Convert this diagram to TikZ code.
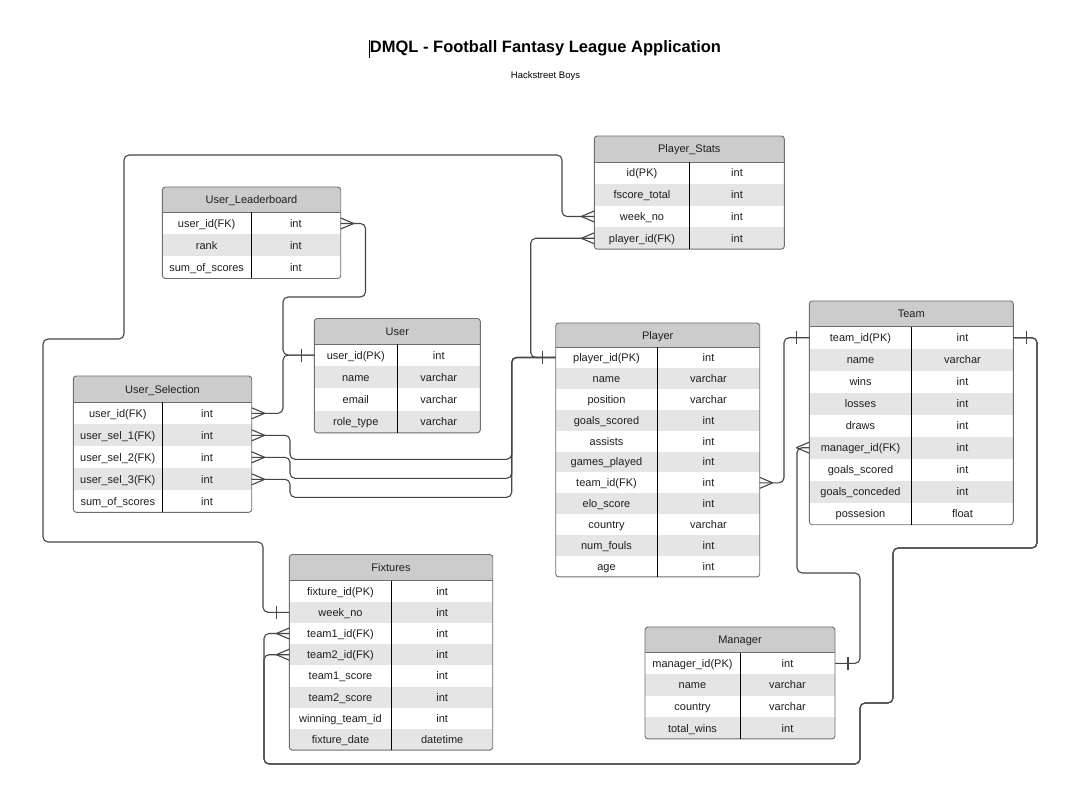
\documentclass[tikz,border=0pt]{standalone}
\usepackage{fontspec}
\setmainfont{Liberation Sans}
\definecolor{hdrfill}{RGB}{204,204,204}
\definecolor{altfill}{RGB}{229,229,229}
\definecolor{bordercol}{RGB}{110,110,110}
\definecolor{linecol}{RGB}{70,70,70}
\definecolor{txtcol}{RGB}{30,30,30}
\newcommand{\ercellfont}{\fontsize{11}{13}\selectfont}
\tikzset{
  hdrbox/.style={fill=hdrfill, inner sep=0pt, outer sep=0pt, text=txtcol, font=\ercellfont, text height=8pt, text depth=0pt},
  rowbox/.style={inner sep=0pt, outer sep=0pt, draw=none},
  celltext/.style={inner sep=0pt, text=txtcol, font=\ercellfont, text height=8pt, text depth=0pt},
  tblframe/.style={draw=bordercol, line width=0.9pt, rounded corners=3pt},
  divider/.style={draw=black, line width=0.8pt},
  rel/.style={draw=linecol, line width=1.1pt, rounded corners=5pt},
  endmark/.style={draw=linecol, line width=1.1pt}
}
\newcommand{\erTable}[9]{%
  \pgfmathsetmacro\tW{#4-#2}%
  \pgfmathsetmacro\cxa{(#2+#3)/2}%
  \pgfmathsetmacro\cxb{(#3+#4)/2}%
  \foreach \a/\b [count=\n] in {#9}{\xdef\nrows{\n}}%
  \pgfmathsetmacro\hb{#5+#6}%
  \pgfmathsetmacro\tb{#5+#6+\nrows*#7}%
  \begin{scope}
    \clip[rounded corners=3pt] (#2,#5) rectangle (#4,\tb);
    \node[hdrbox, minimum width=\tW pt, minimum height=#6 pt, anchor=north west] (#1) at (#2,#5) {#8};
    \foreach \a/\b [count=\i] in {#9}{%
      \pgfmathsetmacro\yy{#5+#6+(\i-1)*#7}%
      \pgfmathsetmacro\cy{#5+#6+(\i-0.5)*#7}%
      \ifodd\i\def\rowfill{white}\else\def\rowfill{altfill}\fi
      \node[rowbox, fill=\rowfill, minimum width=\tW pt, minimum height=#7 pt, anchor=north west] (#1-\i) at (#2,\yy) {};
      \node[celltext] (#1-\i-k) at (\cxa,\cy) {\a};
      \node[celltext] (#1-\i-t) at (\cxb,\cy) {\b};
    }
  \end{scope}
  \draw[tblframe] (#2,#5) rectangle (#4,\tb);
  \draw[draw=bordercol, line width=0.9pt] (#2,\hb) -- (#4,\hb);
  \draw[divider] (#3,\hb) -- (#3,\tb);
}
\newcommand{\crowR}[1]{\draw[endmark] ([xshift=13pt]#1) -- ([yshift=5.5pt]#1) ([xshift=13pt]#1) -- ([yshift=-5.5pt]#1);}
\newcommand{\crowL}[1]{\draw[endmark] ([xshift=-13pt]#1) -- ([yshift=5.5pt]#1) ([xshift=-13pt]#1) -- ([yshift=-5.5pt]#1);}
\newcommand{\barL}[1]{\draw[endmark] ([xshift=-13pt,yshift=6.5pt]#1) -- ([xshift=-13pt,yshift=-6.5pt]#1);}
\newcommand{\barR}[1]{\draw[endmark] ([xshift=13pt,yshift=6.5pt]#1) -- ([xshift=13pt,yshift=-6.5pt]#1);}
\begin{document}
\begin{tikzpicture}[x=1pt,y=-1pt]
\useasboundingbox (0,0) rectangle (1082,805);
\fill[white] (0,0) rectangle (1082,805);

\node[font=\bfseries\fontsize{16.5}{20}\selectfont, text=black] (title) at (545.5,48) {DMQL - Football Fantasy League Application};
\node[font=\fontsize{9.5}{11}\selectfont, text=black] (subtitle) at (545.5,76) {Hackstreet Boys};
\draw[line width=0.8pt] (369.5,40) -- (369.5,58);

% tables
\erTable{PS}{594.3}{689.7}{784.3}{136}{26}{21.8}{Player\_Stats}{id(PK)/int, fscore\_total/int, week\_no/int, player\_id(FK)/int}
\erTable{UL}{162.3}{251}{340.7}{187}{25.5}{22}{User\_Leaderboard}{user\_id(FK)/int, rank/int, sum\_of\_scores/int}
\erTable{U}{314.3}{397.3}{480.3}{318.5}{25.5}{22.2}{User}{user\_id(PK)/int, name/varchar, email/varchar, role\_type/varchar}
\erTable{US}{73.3}{162.3}{251.7}{376}{26.3}{22}{User\_Selection}{user\_id(FK)/int, user\_sel\_1(FK)/int, user\_sel\_2(FK)/int, user\_sel\_3(FK)/int, sum\_of\_scores/int}
\erTable{P}{555.7}{657.3}{759.7}{323}{24}{20.9}{Player}{player\_id(PK)/int, name/varchar, position/varchar, goals\_scored/int, assists/int, games\_played/int, team\_id(FK)/int, elo\_score/int, country/varchar, num\_fouls/int, age/int}
\erTable{T}{809.3}{911.7}{1013.3}{301}{25.7}{22}{Team}{team\_id(PK)/int, name/varchar, wins/int, losses/int, draws/int, manager\_id(FK)/int, goals\_scored/int, goals\_conceded/int, possesion/float}
\erTable{F}{289.3}{391.7}{492.7}{554.5}{26}{21.2}{Fixtures}{fixture\_id(PK)/int, week\_no/int, team1\_id(FK)/int, team2\_id(FK)/int, team1\_score/int, team2\_score/int, winning\_team\_id/int, fixture\_date/datetime}
\erTable{M}{645}{740}{835}{627}{25.5}{21.6}{Manager}{manager\_id(PK)/int, name/varchar, country/varchar, total\_wins/int}

% connectors
\draw[rel] (UL-1.east) -| (365.5,297) -- (283,297) |- (U-1.west);
\draw[rel] (US-1.east) -| (283,390) |- (U-1.west);
\draw[rel] (US-2.east) -| (290,459.3) -| (511.7,400) |- (P-1.west);
\draw[rel] (US-3.east) -| (290,478.3) -| (511.7,400) |- (P-1.west);
\draw[rel] (US-4.east) -| (290,497.3) -| (511.7,400) |- (P-1.west);
\draw[rel] (PS-4.west) -| (530.7,300) |- (P-1.west);
\draw[rel] (PS-3.west) -| (562,155) -| (124,339) -| (43,542) -| (263,580) |- (F-2.west);
\draw[rel] (P-7.east) -| (784,400) |- (T-1.west);
\draw[rel] (T-6.west) -| (797,573) -| (860,620) |- (M-1.east);
\draw[rel] (T-1.east) -| (1037,548) -| (893,703) -| (860,764) -| (264,700) |- (F-3.west);
\draw[rel] (T-1.east) -| (1037,548) -| (893,703) -| (860,764) -| (264,700) |- (F-4.west);

% end marks
\crowR{UL-1.east}
\crowR{US-1.east}
\crowR{US-2.east}
\crowR{US-3.east}
\crowR{US-4.east}
\crowL{PS-3.west}
\crowL{PS-4.west}
\crowR{P-7.east}
\crowL{T-6.west}
\crowL{F-3.west}
\crowL{F-4.west}
\barL{U-1.west}
\barL{P-1.west}
\barL{T-1.west}
\barR{T-1.east}
\barR{M-1.east}
\barL{F-2.west}
\end{tikzpicture}
\end{document}
